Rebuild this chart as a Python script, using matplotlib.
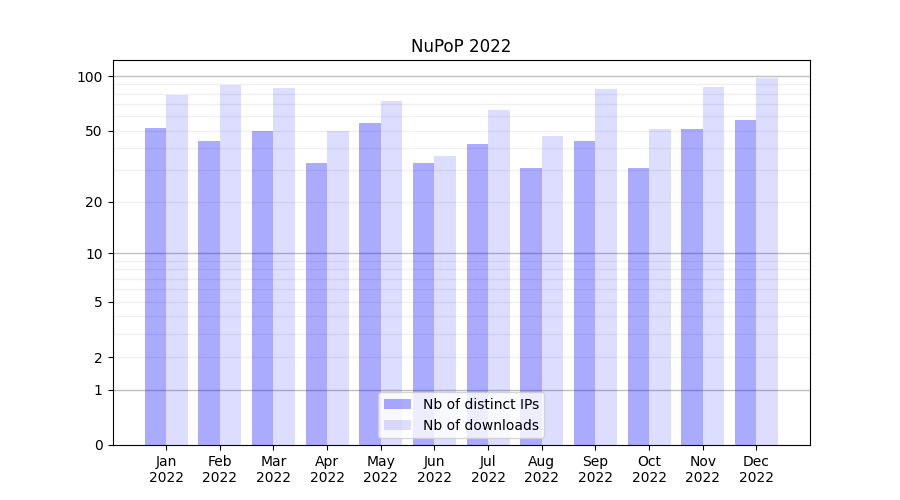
import numpy as np
import matplotlib
matplotlib.use("Agg")
import matplotlib.pyplot as plt
from matplotlib.ticker import FixedLocator, FixedFormatter

months = ["Jan", "Feb", "Mar", "Apr", "May", "Jun", "Jul", "Aug", "Sep", "Oct", "Nov", "Dec"]
year = "2022"
distinct_ips = [52, 44, 50, 33, 55, 33, 42, 31, 44, 31, 51, 57]
downloads = [79, 89, 86, 50, 73, 36, 65, 47, 85, 51, 87, 98]
major_ticks = [0, 1, 2, 5, 10, 20, 50, 100]

def fwd(x):
    return np.log10(1 + np.clip(x, 0, None))

def inv(y):
    return 10 ** y - 1

fig, ax = plt.subplots(figsize=(9, 5), dpi=100)
x = np.arange(len(months))
w = 0.4
ax.bar(x - w / 2, distinct_ips, width=w, color="blue", alpha=1 / 3, label="Nb of distinct IPs")
ax.bar(x + w / 2, downloads, width=w, color="blue", alpha=0.135, label="Nb of downloads")

ax.set_yscale("function", functions=(fwd, inv))
ax.set_ylim(0, max(downloads) * 1.25)
ax.set_xlim(-1, len(months))
ax.yaxis.set_major_locator(FixedLocator(major_ticks))
ax.yaxis.set_major_formatter(FixedFormatter([str(t) for t in major_ticks]))
minor = [2, 3, 4, 5, 6, 7, 8, 9, 20, 30, 40, 50, 60, 70, 80, 90]
ax.yaxis.set_minor_locator(FixedLocator(minor))
ax.tick_params(axis="y", which="minor", length=0)
for v in [1, 10, 100]:
    ax.axhline(v, color="gray", alpha=0.5, linewidth=1, zorder=0.5)
for v in minor:
    ax.axhline(v, color="gray", alpha=0.12, linewidth=1, zorder=0.5)

ax.set_xticks(x)
ax.set_xticklabels([f"{m}\n{year}" for m in months])
ax.set_title("NuPoP 2022")
ax.legend(loc="lower center")
fig.savefig("out.png")
